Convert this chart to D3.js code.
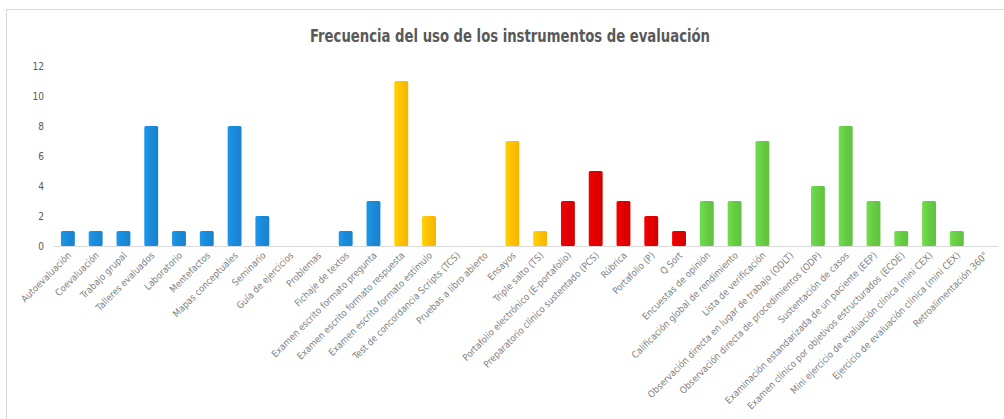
<!DOCTYPE html>
<html>
<head>
<meta charset="utf-8">
<script src="https://cdn.jsdelivr.net/npm/d3@7"></script>
<style>
  body { margin: 0; background: #fff; }
  text { font-family: "DejaVu Sans Condensed", "DejaVu Sans", sans-serif; font-stretch: condensed; }
</style>
</head>
<body>
<div id="chart"></div>
<script>
// instruments, in the order of the x axis
const categories = [
  "Autoevaluación", "Coevaluación", "Trabajo grupal", "Talleres evaluados", "Laboratorio",
  "Mentefactos", "Mapas conceptuales", "Seminario", "Guía de ejercicios", "Problemas",
  "Fichaje de textos", "Examen escrito formato pregunta", "Examen escrito formato respuesta",
  "Examen escrito formato estímulo", "Test de concordancia Scripts (TCS)", "Pruebas a libro abierto",
  "Ensayos", "Triple salto (TS)", "Portafolio electrónico (E-portafolio)",
  "Preparatorio clínico sustentado (PCS)", "Rúbrica", "Portafolio (P)", "Q Sort",
  "Encuestas de opinión", "Calificación global de rendimiento", "Lista de verificación",
  "Observación directa en lugar de trabajo (ODLT)", "Observación directa de procedimientos (ODP)",
  "Sustentación de casos", "Examinación estandarizada de un paciente (EEP)",
  "Examen clínico por objetivos estructurados (ECOE)", "Mini ejercicio de evaluación clínica (mini CEX)",
  "Ejercicio de evaluación clínica (mini CEX)", "Retroalimentación 360°"
];
const values = [1, 1, 1, 8, 1, 1, 8, 2, 0, 0, 1, 3, 11, 2, 0, 0, 7, 1, 3, 5, 3, 2, 1, 3, 3, 7, 0, 4, 8, 3, 1, 3, 1, 0];
// colour group of each bar
const groups = ["a","a","a","a","a","a","a","a","a","a","a","a","b","b","b","b","b","b","c","c","c","c","c","d","d","d","d","d","d","d","d","d","d","d"];
const yTicks = [0, 2, 4, 6, 8, 10, 12];

const data = categories.map((c, i) => ({name: c, value: values[i], group: groups[i]}));

const W = 1004, H = 419;
const svg = d3.select("#chart").append("svg").attr("width", W).attr("height", H);

// chart frame (only left and top edges are visible)
svg.append("rect")
  .attr("x", 6.5).attr("y", 9.5).attr("width", 1100).attr("height", 500)
  .attr("fill", "none").attr("stroke", "#d9d9d9");

const x = d3.scaleBand().domain(categories).range([54, 998.5]).paddingInner(0.5).paddingOuter(0.25);
const y = d3.scaleLinear().domain([0, 12]).range([246, 66]);

const color = d3.scaleOrdinal().domain(["a", "b", "c", "d"])
  .range(["#1a8ad8", "#ffc000", "#e00000", "#66cc44"]);

// soft gradient on the bars
const defs = svg.append("defs");
color.domain().forEach(k => {
  const c = d3.color(color(k));
  const gr = defs.append("linearGradient").attr("id", "g" + k).attr("x1", 0).attr("x2", 1).attr("y1", 0).attr("y2", 0);
  gr.append("stop").attr("offset", "0%").attr("stop-color", c.brighter(0.25));
  gr.append("stop").attr("offset", "50%").attr("stop-color", c);
  gr.append("stop").attr("offset", "100%").attr("stop-color", c.darker(0.15));
});

svg.append("text")
  .attr("x", 510).attr("y", 42)
  .attr("text-anchor", "middle")
  .attr("font-size", 18).attr("font-weight", "bold")
  .attr("fill", "#595959")
  .attr("textLength", 400).attr("lengthAdjust", "spacingAndGlyphs")
  .text("Frecuencia del uso de los instrumentos de evaluación");

// y axis labels only
const yAxis = svg.append("g")
  .attr("transform", "translate(44,0)")
  .call(d3.axisLeft(y).tickValues(yTicks).tickSize(0).tickPadding(0));
yAxis.select(".domain").remove();
yAxis.selectAll("text").attr("font-size", 10).attr("fill", "#595959")
  .style("font-family", '"DejaVu Sans Condensed", "DejaVu Sans", sans-serif');

// bars
svg.append("g").selectAll("rect")
  .data(data.filter(d => d.value > 0))
  .enter().append("rect")
    .attr("x", d => x(d.name))
    .attr("y", d => y(d.value))
    .attr("width", x.bandwidth())
    .attr("height", d => y(0) - y(d.value))
    .attr("rx", 1.5)
    .attr("fill", d => "url(#g" + d.group + ")");

// x axis
const xAxis = svg.append("g")
  .attr("transform", "translate(0," + y(0) + ")")
  .call(d3.axisBottom(x).tickSize(0).tickPadding(0).tickSizeOuter(0));
xAxis.select(".domain").attr("stroke", "#d9d9d9").attr("d", "M54,0.5H998.5");
xAxis.selectAll("text")
  .attr("font-size", 9.5)
  .attr("fill", "#7f7f7f")
  .attr("text-anchor", "end")
  .attr("dy", null).attr("y", 0)
  .attr("transform", "translate(4,10) rotate(-45)")
  .style("font-family", '"DejaVu Sans Condensed", "DejaVu Sans", sans-serif');
</script>
</body>
</html>
